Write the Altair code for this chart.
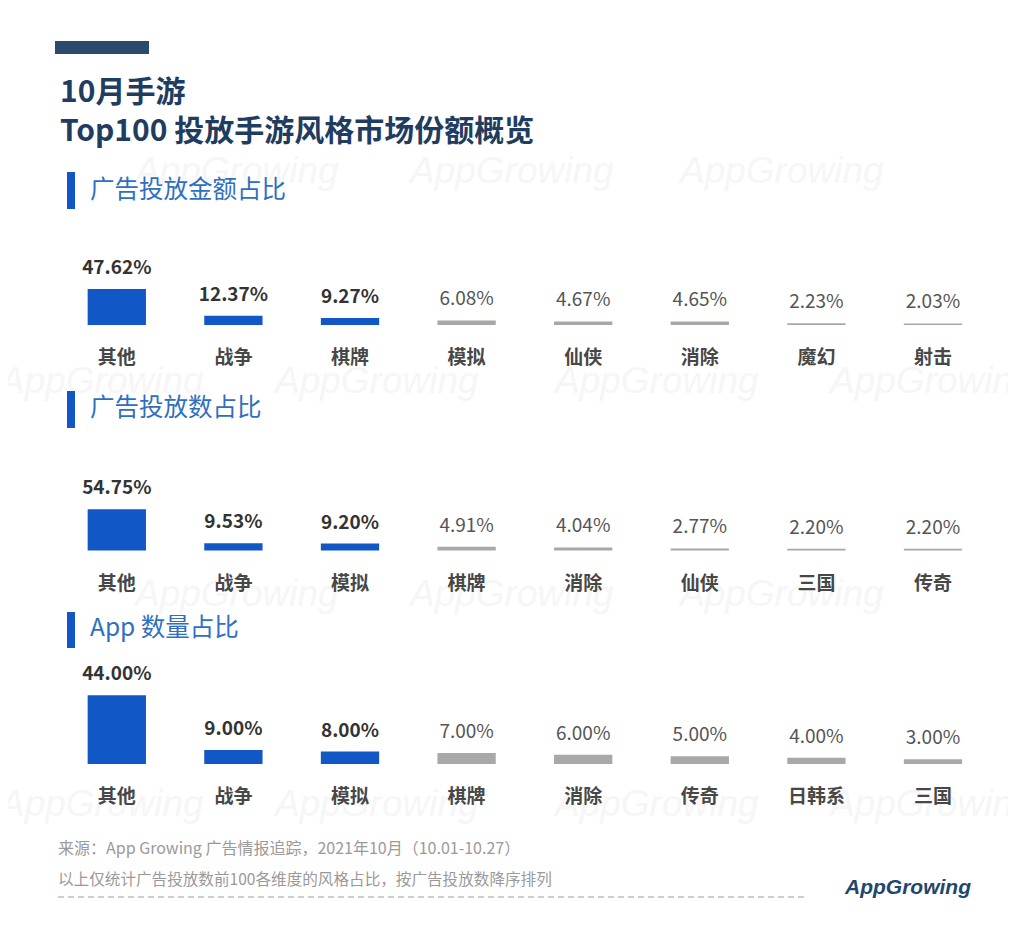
import altair as alt
import pandas as pd

# ---- data ----
cats_amount = ["其他", "战争", "棋牌", "模拟", "仙侠", "消除", "魔幻", "射击"]
vals_amount = [47.62, 12.37, 9.27, 6.08, 4.67, 4.65, 2.23, 2.03]

cats_count = ["其他", "战争", "模拟", "棋牌", "消除", "仙侠", "三国", "传奇"]
vals_count = [54.75, 9.53, 9.20, 4.91, 4.04, 2.77, 2.20, 2.20]

cats_apps = ["其他", "战争", "模拟", "棋牌", "消除", "传奇", "日韩系", "三国"]
vals_apps = [44.00, 9.00, 8.00, 7.00, 6.00, 5.00, 4.00, 3.00]

title_1 = "10月手游"
title_2 = "Top100 投放手游风格市场份额概览"
headers = ["广告投放金额占比", "广告投放数占比", "App 数量占比"]
source_note = "来源：App Growing 广告情报追踪，2021年10月（10.01-10.27）"
method_note = "以上仅统计广告投放数前100各维度的风格占比，按广告投放数降序排列"
brand = "AppGrowing"

FONT = "Noto Sans CJK SC"
BLUE = "#1157c6"
GRAY = "#a8a8a8"
NAVY = "#1f3d60"
HEAD_BLUE = "#2f6fbf"

XS = alt.Scale(domain=[1, 8], range=[108.8, 925.0])


def one():
    return alt.Data(values=[{"k": 0}])


def text(txt, x, y, **kw):
    return alt.Chart(alt.Data(values=[{"t": txt}])).mark_text(**kw).encode(
        x=alt.value(x), y=alt.value(y), text="t:N"
    )


def rect(x, x2, y, y2, color):
    return alt.Chart(one()).mark_rect(color=color).encode(
        x=alt.value(x), x2=alt.value(x2), y=alt.value(y), y2=alt.value(y2)
    )


def panel(cats, vals, base, k):
    df = pd.DataFrame({"rank": list(range(1, len(cats) + 1)), "cat": cats, "value": vals})
    ysc = alt.Scale(domain=[0, 100], range=[base, base - 100 * k])
    b = alt.Chart(df).transform_calculate(
        xl="datum.rank - 0.25",
        xr="datum.rank + 0.25",
        zero="0",
        lab="format(datum.value, '.2f') + '%'",
    )
    bars = b.mark_rect().encode(
        x=alt.X("xl:Q", scale=XS, axis=None),
        x2="xr:Q",
        y=alt.Y("value:Q", scale=ysc, axis=None),
        y2="zero:Q",
        color=alt.condition("datum.rank <= 3", alt.value(BLUE), alt.value(GRAY)),
    )
    top = b.transform_filter("datum.rank <= 3").mark_text(
        font=FONT, fontSize=19, fontWeight="bold", color="#333333",
        baseline="alphabetic", dy=-15,
    ).encode(
        x=alt.X("rank:Q", scale=XS, axis=None),
        y=alt.Y("value:Q", scale=ysc, axis=None),
        text="lab:N",
    )
    rest = b.transform_filter("datum.rank > 3").mark_text(
        font=FONT, fontSize=19, fontWeight="normal", color="#555555",
        baseline="alphabetic", dy=-15,
    ).encode(
        x=alt.X("rank:Q", scale=XS, axis=None),
        y=alt.Y("value:Q", scale=ysc, axis=None),
        text="lab:N",
    )
    cat = b.mark_text(
        font=FONT, fontSize=19, fontWeight="bold", color="#474747",
        baseline="middle", dy=33,
    ).encode(
        x=alt.X("rank:Q", scale=XS, axis=None),
        y=alt.Y("zero:Q", scale=ysc, axis=None),
        text="cat:N",
    )
    return alt.layer(bars, top, rest, cat)


# watermarks (decorative, very faint text)
wm_rows = [
    (164, [127, 402, 672]),
    (374, [-8, 267, 547, 822]),
    (587, [127, 402, 672]),
    (797, [-8, 267, 547, 822]),
]
wms = []
for yy, xs in wm_rows:
    for xx in xs:
        wms.append(text(brand, xx, yy, font="Liberation Sans", fontSize=37,
                        fontStyle="italic", color="#f6f6f6", align="left",
                        baseline="middle"))

decor = [
    rect(47, 141, 33, 46, "#2b4a6d"),
    text(title_1, 52, 85, font=FONT, fontSize=30, fontWeight="bold", color=NAVY,
         align="left", baseline="middle"),
    text(title_2, 52, 124, font=FONT, fontSize=30, fontWeight="bold", color=NAVY,
         align="left", baseline="middle"),
    rect(59, 67, 164, 201, BLUE),
    text(headers[0], 82, 183, font=FONT, fontSize=24.5, color=HEAD_BLUE,
         align="left", baseline="middle"),
    rect(59, 67, 383, 420, BLUE),
    text(headers[1], 82, 401, font=FONT, fontSize=24.5, color=HEAD_BLUE,
         align="left", baseline="middle"),
    rect(59, 67, 604, 640, BLUE),
    text(headers[2], 82, 621, font=FONT, fontSize=24.5, color=HEAD_BLUE,
         align="left", baseline="middle"),
    text(source_note, 50, 841, font=FONT, fontSize=16, color="#9a9a9a",
         align="left", baseline="middle"),
    text(method_note, 50, 872, font=FONT, fontSize=15.6, color="#9a9a9a",
         align="left", baseline="middle"),
    alt.Chart(one()).mark_rule(strokeDash=[6, 4], color="#bdbdbd", strokeWidth=1.5).encode(
        x=alt.value(50), x2=alt.value(797), y=alt.value(889)
    ),
    text(brand, 837, 880, font="Liberation Sans", fontSize=21, fontWeight="bold",
         fontStyle="italic", color="#22466e", align="left", baseline="middle"),
]

p1 = panel(cats_amount, vals_amount, 317.0, 0.755)
p2 = panel(cats_count, vals_count, 542.5, 0.755)
p3 = panel(cats_apps, vals_apps, 756.0, 1.56)

chart = alt.layer(*wms, *decor, p1, p2, p3).resolve_scale(y="independent").properties(
    width=1000, height=912, padding=0, autosize="none", background="white"
).configure_view(stroke=None)

chart.save("out.html", embed_options={"renderer": "svg", "actions": False})
